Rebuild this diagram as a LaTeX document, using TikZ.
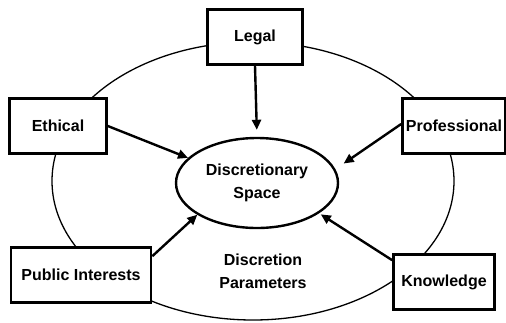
\documentclass[tikz,border=0pt]{standalone}
\usepackage{fontspec}
\setmainfont{Liberation Sans}
\usetikzlibrary{arrows.meta, positioning, shapes.geometric}

\tikzset{
  factor/.style={draw, line width=2.6pt, fill=white, minimum height=55pt, inner sep=2pt,
                 font=\fontsize{16}{23}\selectfont\bfseries},
  core/.style={draw, ellipse, line width=2.4pt, fill=white, minimum width=162pt, minimum height=90pt,
               inner sep=0pt, align=center, font=\fontsize{16}{23}\selectfont\bfseries},
}

\begin{document}
\begin{tikzpicture}[x=1pt, y=-1pt, >={Triangle[length=10pt, width=9pt]}]
        \useasboundingbox (0,0) rectangle (506,322);

        % outer ring of parameters
        \draw[line width=1.3pt] (253,181) ellipse [x radius=201, y radius=139];

        \node[core] (space) at (257,183) {Discretionary\\Space};
        \node[factor, minimum width=95pt]  (legal) at (255,37)  {Legal};
        \node[factor, minimum width=97pt]  (eth)   at (58,126)  {Ethical};
        \node[factor, minimum width=103pt] (prof)  at (454,126) {Professional};
        \node[factor, minimum width=140pt] (pub)   at (81,275)  {Public Interests};
        \node[factor, minimum width=101pt] (know)  at (444,282) {Knowledge};
        \node[align=center, font=\fontsize{16}{23}\selectfont\bfseries] (param) at (263,271) {Discretion\\Parameters};

        \path[->, line width=2.4pt]
        (legal.south) edge [shorten >=7pt] (space.north)
        (eth.east) edge (space.160)
        ([yshift=2pt]prof.west) edge [shorten >=10pt] (space.10)
        ([yshift=-10pt]pub.north east) edge (space.208)
        ([yshift=-7pt]know.north west) edge [shorten >=2pt] (space.334);

    \end{tikzpicture}
\end{document}
